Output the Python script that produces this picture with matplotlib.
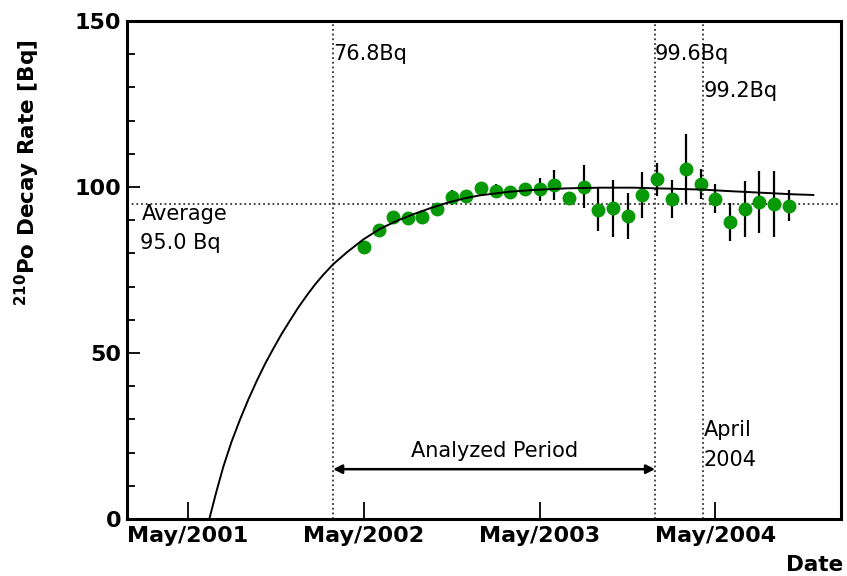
#Po-210 decay rate vs date, with fit curve and analyzed period.
import numpy as np
import matplotlib.pyplot as plt

# monthly measurements
months = ['2002-05', '2002-06', '2002-07', '2002-08', '2002-09', '2002-10',
          '2002-11', '2002-12', '2003-01', '2003-02', '2003-03', '2003-04',
          '2003-05', '2003-06', '2003-07', '2003-08', '2003-09', '2003-10',
          '2003-11', '2003-12', '2004-01', '2004-02', '2004-03', '2004-04',
          '2004-05', '2004-06', '2004-07', '2004-08', '2004-09', '2004-10']
rate = [81.8, 87.0, 91.0, 90.6, 91.1, 93.3, 96.9, 97.3, 99.6, 98.9,
        98.6, 99.4, 99.3, 100.6, 96.6, 100.1, 93.1, 93.6, 91.3, 97.6,
        102.3, 96.4, 105.4, 100.9, 96.5, 89.4, 93.3, 95.4, 94.9, 94.4]
rate_err = [1.0, 1.2, 1.0, 1.2, 2.0, 1.2, 2.2, 1.2, 1.0, 2.0,
            1.0, 1.8, 3.5, 4.4, 1.5, 6.5, 6.5, 8.6, 6.9, 7.0,
            4.9, 5.6, 10.5, 4.5, 4.3, 5.8, 8.4, 9.3, 10.0, 4.7]

# fit curve (decimal year, Bq)
fit_t = [2001.454, 2001.494, 2001.534, 2001.580, 2001.629, 2001.676, 2001.724,
         2001.770, 2001.818, 2001.865, 2001.913, 2001.960, 2002.008, 2002.055,
         2002.103, 2002.160, 2002.236, 2002.330, 2002.425, 2002.520, 2002.615,
         2002.710, 2002.805, 2002.899, 2002.994, 2003.165, 2003.296, 2003.487,
         2003.677, 2003.865, 2003.990, 2004.075, 2004.206, 2004.265, 2004.397,
         2004.587, 2004.776, 2004.890]
fit_rate = [0.0, 8.2, 15.8, 23.2, 30.0, 36.0, 41.6,
            46.6, 51.3, 55.7, 59.8, 63.7, 67.3, 70.6,
            73.6, 76.8, 80.3, 84.2, 87.4, 89.8, 91.8,
            93.6, 95.2, 96.5, 97.5, 98.6, 99.1, 99.6,
            99.8, 99.8, 99.6, 99.5, 99.3, 99.2, 98.8,
            98.3, 97.8, 97.6]

tick_pos = [2001 + 4 / 12, 2002 + 4 / 12, 2003 + 4 / 12, 2004 + 4 / 12]
tick_labels = ['May/2001', 'May/2002', 'May/2003', 'May/2004']

average = 95.0
t_start = 2002.158
t_end = 2003.990
t_april = 2004.265


def to_year(s):
    y, m = s.split('-')
    return int(y) + (int(m) - 1) / 12.0


def main():
    t = np.array([to_year(s) for s in months])

    fig = plt.figure(figsize=(8.47, 5.76), dpi=100)
    ax = fig.add_axes([0.150, 0.099, 0.843, 0.8645])

    dot = (0, (1, 1.6))
    ax.axhline(average, color='#333333', lw=1.3, ls=dot, zorder=1)
    for tv in [t_start, t_end, t_april]:
        ax.axvline(tv, color='#333333', lw=1.3, ls=dot, zorder=1)

    ax.errorbar(t, rate, yerr=rate_err, fmt='o', color='#079907', mec='#079907',
                ms=9, ecolor='black', elinewidth=1.6, capsize=0, zorder=2)
    ax.plot(fit_t, fit_rate, color='black', lw=1.4, zorder=3)

    ax.annotate('', xy=(t_start, 15.0), xytext=(t_end, 15.0),
                arrowprops=dict(arrowstyle='<|-|>', color='black', lw=1.8,
                                mutation_scale=13, shrinkA=0, shrinkB=0))

    fs = 15
    ax.text(t_start, 140, '76.8Bq', fontsize=fs, ha='left', va='center')
    ax.text(t_end, 140, '99.6Bq', fontsize=fs, ha='left', va='center')
    ax.text(t_april, 129, '99.2Bq', fontsize=fs, ha='left', va='center')
    ax.text(2001.07, 92.0, 'Average', fontsize=fs, ha='left', va='center')
    ax.text(2001.06, 83.2, '95.0 Bq', fontsize=fs, ha='left', va='center')
    ax.text(2003.079, 20.5, 'Analyzed Period', fontsize=fs, ha='center', va='center')
    ax.text(t_april, 26.8, 'April', fontsize=fs, ha='left', va='center')
    ax.text(t_april, 17.8, '2004', fontsize=fs, ha='left', va='center')

    ax.set_xlim(2000.986, 2005.048)
    ax.set_ylim(0, 150)
    ax.set_xticks(tick_pos)
    ax.set_xticklabels(tick_labels)
    ax.set_yticks([0, 50, 100, 150])
    ax.set_yticks(np.arange(0, 151, 10), minor=True)

    for s in ax.spines.values():
        s.set_linewidth(2.2)
    ax.tick_params(axis='x', which='major', direction='in', length=12, width=1.3,
                   labelsize=16, pad=5, top=False)
    ax.tick_params(axis='y', which='major', direction='in', length=9.5, width=1.3,
                   labelsize=16, pad=4, right=False)
    ax.tick_params(axis='y', which='minor', direction='in', length=6, width=1.3,
                   right=False)
    for lab in ax.get_xticklabels() + ax.get_yticklabels():
        lab.set_fontweight('bold')

    fig.text(0.032, 0.70, r'$^{\mathbf{210}}$Po Decay Rate [Bq]', rotation=90,
             ha='center', va='center', fontsize=15.5, fontweight='bold')
    fig.text(0.995, 0.019, 'Date', ha='right', va='center', fontsize=15.5,
             fontweight='bold')

    fig.savefig('out.png', dpi=100)


main()
